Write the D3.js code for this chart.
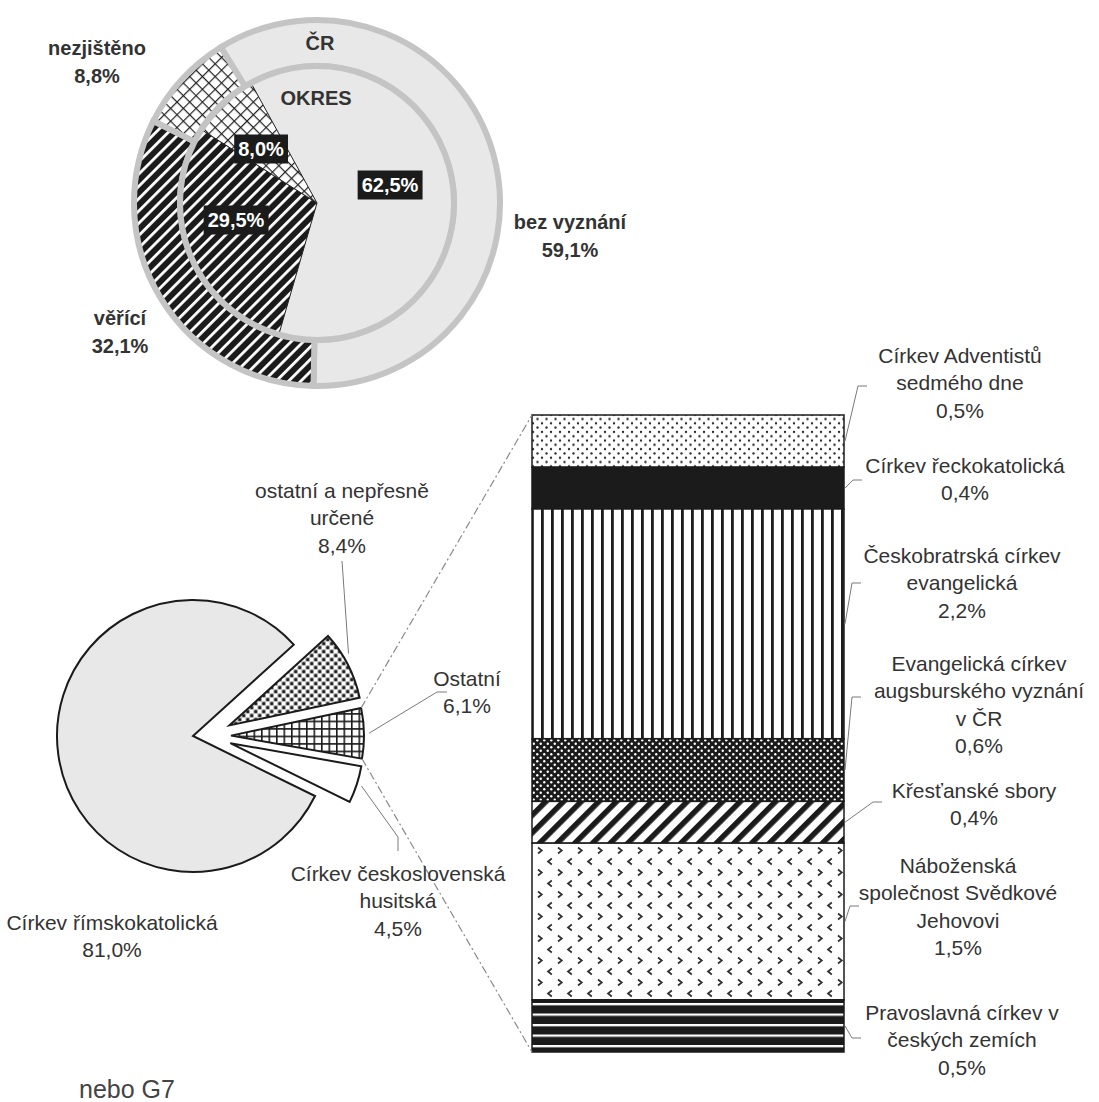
<!DOCTYPE html>
<html><head><meta charset="utf-8">
<script src="https://cdn.jsdelivr.net/npm/d3@7"></script>
<style>body{margin:0;background:#fff} text{font-family:"Liberation Sans",Arial,sans-serif}</style>
</head><body><svg id="c" width="1099" height="1102"></svg>
<script>
// ---------- DATA ----------
const ringCategories = ["bez vyznání", "věřící", "nezjištěno"];
const crValues = [59.1, 32.1, 8.8];      // outer ring (ČR)
const okresValues = [62.5, 29.5, 8.0];   // inner pie (OKRES)
const ringTitles = ["ČR", "OKRES"];

const pieCategories = [["Církev římskokatolická"], ["ostatní a nepřesně", "určené"], ["Ostatní"], ["Církev československá", "husitská"]];
const pieValues = [81.0, 8.4, 6.1, 4.5];

const barCategories = [
  ["Církev Adventistů", "sedmého dne"],
  ["Církev řeckokatolická"],
  ["Českobratrská církev", "evangelická"],
  ["Evangelická církev", "augsburského vyznání", "v ČR"],
  ["Křesťanské sbory"],
  ["Náboženská", "společnost Svědkové", "Jehovovi"],
  ["Pravoslavná církev v", "českých zemích"]
];
const barValues = [0.5, 0.4, 2.2, 0.6, 0.4, 1.5, 0.5];
const footnote = "nebo G7";

// ---------- HELPERS ----------
const fmt = v => v.toFixed(1).replace(".", ",") + "%";
const svg = d3.select("#c");
const defs = svg.append("defs");
const TXT = "#333";
function pat(id, w, h, tr, draw) {
  const p = defs.append("pattern").attr("id", id).attr("patternUnits", "userSpaceOnUse")
    .attr("width", w).attr("height", h);
  if (tr) p.attr("patternTransform", tr);
  draw(p, w, h);
}
function rect(p, x, y, w, h, f) { p.append("rect").attr("x", x).attr("y", y).attr("width", w).attr("height", h).attr("fill", f); }
function lines(lst, x, yc, lh, size, weight, fill) {
  lst.forEach((t, i) => svg.append("text").attr("x", x).attr("y", yc + i * lh + size * 0.36)
    .attr("text-anchor", "middle").attr("font-size", size).attr("font-weight", weight)
    .attr("fill", fill).text(t));
}

// ---------- PATTERNS ----------
pat("hatch", 8.7, 8.7, "rotate(45)", (p, w, h) => { rect(p, 0, 0, w, h, "#1b1b1b"); rect(p, 0, 0, 2.8, h, "#fff"); });
pat("cross", 9, 9, "rotate(45)", (p, w, h) => { rect(p, 0, 0, w, h, "#fff"); rect(p, 0, 0, 1.2, h, "#222"); rect(p, 0, 0, w, 1.2, "#222"); });
pat("pdots", 8, 8, null, (p, w, h) => { rect(p, 0, 0, w, h, "#fff"); rect(p, 0.5, 0.5, 3.4, 3.4, "#1b1b1b"); rect(p, 4.5, 4.5, 3.4, 3.4, "#1b1b1b"); });
pat("grid", 7.5, 7.5, null, (p, w, h) => { rect(p, 0, 0, w, h, "#fff"); rect(p, 0, 0, 1.6, h, "#1b1b1b"); rect(p, 0, 0, w, 1.6, "#1b1b1b"); });
pat("bdots", 9, 8.6, null, (p, w, h) => {
  rect(p, 0, 0, w, h, "#fff");
  p.append("circle").attr("cx", 2).attr("cy", 2).attr("r", 1.2).attr("fill", "#2a2a2a");
  p.append("circle").attr("cx", 6.5).attr("cy", 6.3).attr("r", 1.2).attr("fill", "#2a2a2a");
});
pat("vlines", 10, 10, "translate(541,0)", (p, w, h) => { rect(p, 0, 0, w, h, "#fff"); rect(p, 0, 0, 2.8, h, "#1b1b1b"); });
pat("wdots", 7, 7, null, (p, w, h) => {
  rect(p, 0, 0, w, h, "#1b1b1b");
  p.append("circle").attr("cx", 1.75).attr("cy", 1.75).attr("r", 1.2).attr("fill", "#fff");
  p.append("circle").attr("cx", 5.25).attr("cy", 5.25).attr("r", 1.2).attr("fill", "#fff");
});
pat("bstripe", 12.5, 12.5, "rotate(45)", (p, w, h) => { rect(p, 0, 0, w, h, "#fff"); rect(p, 0, 0, 5.5, h, "#1b1b1b"); });
pat("chev", 20, 22, "translate(536,846)", (p, w, h) => {
  rect(p, 0, 0, w, h, "#fff");
  p.append("path").attr("d", "M2,1.5 L5.8,4.5 L2,7.5").attr("fill", "none").attr("stroke", "#2f2f2f").attr("stroke-width", 1.7);
  p.append("path").attr("d", "M15.8,12.5 L12,15.5 L15.8,18.5").attr("fill", "none").attr("stroke", "#2f2f2f").attr("stroke-width", 1.7);
});
pat("hlines", 10.5, 10.5, "translate(0,1003)", (p, w, h) => { rect(p, 0, 0, w, h, "#1b1b1b"); rect(p, 0, 0, w, 2.3, "#fff"); });

const LIGHT = "#e8e8e8", RINGGRAY = "#c4c4c4";

// ---------- TOP: DOUBLE PIE ----------
const tc = { x: 317, y: 203 }, rOut = 183, rIn = 137;
const ringFills = [LIGHT, "url(#hatch)", "url(#cross)"];
const gTop = svg.append("g").attr("transform", `translate(${tc.x},${tc.y})`);
const s1 = -2 * Math.PI * crValues[2] / 100;
const crArcs = d3.pie().sort(null).startAngle(s1).endAngle(s1 + 2 * Math.PI)(crValues);
gTop.selectAll("path.cr").data(crArcs).join("path").attr("class", "cr")
  .attr("d", d3.arc().innerRadius(rIn).outerRadius(rOut))
  .attr("fill", (d, i) => ringFills[i]).attr("stroke", RINGGRAY).attr("stroke-width", 6);
const s2 = -2 * Math.PI * okresValues[2] / 100;
const okArcs = d3.pie().sort(null).startAngle(s2).endAngle(s2 + 2 * Math.PI)(okresValues);
gTop.selectAll("path.ok").data(okArcs).join("path").attr("class", "ok")
  .attr("d", d3.arc().innerRadius(0).outerRadius(rIn))
  .attr("fill", (d, i) => ringFills[i]).attr("stroke", (d, i) => i === 0 ? "none" : "#222").attr("stroke-width", 1);
gTop.append("circle").attr("r", rIn).attr("fill", "none").attr("stroke", RINGGRAY).attr("stroke-width", 6);

// ring titles
lines([ringTitles[0]], 320, 43, 0, 20, "bold", TXT);
lines([ringTitles[1]], 316, 98, 0, 20, "bold", TXT);

// outer labels (ČR)
const crLabelPos = [{ x: 570, y: 222 }, { x: 120, y: 318 }, { x: 97, y: 48 }];
crValues.forEach((v, i) => lines([ringCategories[i], fmt(v)], crLabelPos[i].x, crLabelPos[i].y, 28, 20, "bold", TXT));

// inner boxed labels (OKRES)
const okLabelPos = [{ x: 390, y: 185 }, { x: 236, y: 220 }, { x: 261, y: 149 }];
okresValues.forEach((v, i) => {
  const t = svg.append("text").attr("x", okLabelPos[i].x).attr("y", okLabelPos[i].y + 7.2)
    .attr("text-anchor", "middle").attr("font-size", 20).attr("font-weight", "bold")
    .attr("fill", "#fff").text(fmt(v));
  const bb = t.node().getBBox();
  svg.insert("rect", () => t.node()).attr("x", bb.x - 4).attr("y", okLabelPos[i].y - 14.5)
    .attr("width", bb.width + 8).attr("height", 29).attr("fill", "#1b1b1b");
});

// ---------- BOTTOM LEFT: EXPLODED PIE ----------
const pc = { x: 193, y: 736 }, rBig = 136, rSmall = 133;
const total = d3.sum(pieValues);
const smallCenter = 82 / 180 * Math.PI;
const pStart = smallCenter + Math.PI * (total - pieValues[0]) / total;
const pArcs = d3.pie().sort(null).startAngle(pStart).endAngle(pStart + 2 * Math.PI)(pieValues);
const pieFills = [LIGHT, "url(#pdots)", "url(#grid)", "#fff"];
const explode = 38;
function offsetOf(d, i) {
  if (i === 0) return [0, 0];
  let mid = (d.startAngle + d.endAngle) / 2;
  mid = ((mid % (2 * Math.PI)) + 2 * Math.PI) % (2 * Math.PI);
  const dir = Math.PI / 2 + (mid - Math.PI / 2) * 0.6;
  return [explode * Math.sin(dir), -explode * Math.cos(dir)];
}
const apex = pArcs.map((d, i) => { const o = offsetOf(d, i); return [pc.x + o[0], pc.y + o[1]]; });
const pt = (i, ang, r) => [apex[i][0] + r * Math.sin(ang), apex[i][1] - r * Math.cos(ang)];

svg.selectAll("path.pie").data(pArcs).join("path").attr("class", "pie")
  .attr("transform", (d, i) => `translate(${apex[i][0]},${apex[i][1]})`)
  .attr("d", (d, i) => d3.arc().innerRadius(0).outerRadius(i === 0 ? rBig : rSmall)(d))
  .attr("fill", (d, i) => pieFills[i]).attr("stroke", "#1b1b1b").attr("stroke-width", 2).attr("stroke-linejoin", "miter");

// ---------- BOTTOM RIGHT: STACKED BAR ----------
const bx0 = 532, bx1 = 844;
const barSum = d3.sum(barValues);
const yB = d3.scaleLinear().domain([0, barSum]).range([415, 1052]);
const cum = [0, ...d3.cumsum(barValues)];
const barFills = ["url(#bdots)", "#1b1b1b", "url(#vlines)", "url(#wdots)", "url(#bstripe)", "url(#chev)", "url(#hlines)"];
svg.selectAll("rect.bar").data(barValues).join("rect").attr("class", "bar")
  .attr("x", bx0).attr("width", bx1 - bx0)
  .attr("y", (d, i) => yB(cum[i])).attr("height", (d, i) => yB(cum[i + 1]) - yB(cum[i]))
  .attr("fill", (d, i) => barFills[i]).attr("stroke", "#1b1b1b").attr("stroke-width", 1.5);

// connectors (dash-dot) from the "Ostatní" slice to the bar
const mid = pArcs[2];
const cTop = pt(2, mid.startAngle, rSmall), cBot = pt(2, mid.endAngle, rSmall);
const dash = { stroke: "#8a8a8a", "stroke-width": 1.2, "stroke-dasharray": "8,3,2,3", fill: "none" };
[[cTop, [bx0, yB(0)]], [cBot, [bx0, yB(barSum)]]].forEach(seg => {
  const l = svg.append("line").attr("x1", seg[0][0]).attr("y1", seg[0][1]).attr("x2", seg[1][0]).attr("y2", seg[1][1]);
  Object.entries(dash).forEach(([k, v]) => l.attr(k, v));
});

// ---------- PIE LABELS ----------
const lead = pts => svg.append("path").attr("d", d3.line()(pts)).attr("fill", "none").attr("stroke", "#7a7a7a").attr("stroke-width", 1);
const pieLabelPos = [{ x: 112, y: 922 }, { x: 342, y: 490 }, { x: 467, y: 678 }, { x: 398, y: 873 }];
pieValues.forEach((v, i) => lines([...pieCategories[i], fmt(v)], pieLabelPos[i].x, pieLabelPos[i].y, 27.5, 21, "normal", TXT));
{
  const a1 = pArcs[1], m1 = (a1.startAngle + a1.endAngle) / 2 - 0.07;
  lead([[342, 561], pt(1, m1, rSmall + 6)]);
  const a2 = pArcs[2], m2 = (a2.startAngle + a2.endAngle) / 2;
  lead([pt(2, m2, rSmall + 5), [437, 692], [447, 692]]);
  const a3 = pArcs[3], m3 = (a3.startAngle + a3.endAngle) / 2;
  lead([pt(3, m3, rSmall + 5), [398, 837], [398, 851]]);
}

// ---------- BAR LABELS ----------
const barLabelPos = [
  { x: 960, y: 355, elbow: [858, 386] },
  { x: 965, y: 465, elbow: [853, 480] },
  { x: 962, y: 555, elbow: [852, 583] },
  { x: 979, y: 663, elbow: [852, 697] },
  { x: 974, y: 790, elbow: [873, 802] },
  { x: 958, y: 865, elbow: [850, 906] },
  { x: 962, y: 1012, elbow: [852, 1038] }
];
barValues.forEach((v, i) => {
  const p = barLabelPos[i];
  lines([...barCategories[i], fmt(v)], p.x, p.y, 27.5, 21, "normal", TXT);
  const ym = (yB(cum[i]) + yB(cum[i + 1])) / 2;
  lead([[bx1 + 1, ym], p.elbow, [p.elbow[0] + 9, p.elbow[1]]]);
});

// footnote
svg.append("text").attr("x", 127).attr("y", 1098).attr("text-anchor", "middle")
  .attr("font-size", 25).attr("fill", "#444").text(footnote);
</script>
</body></html>
